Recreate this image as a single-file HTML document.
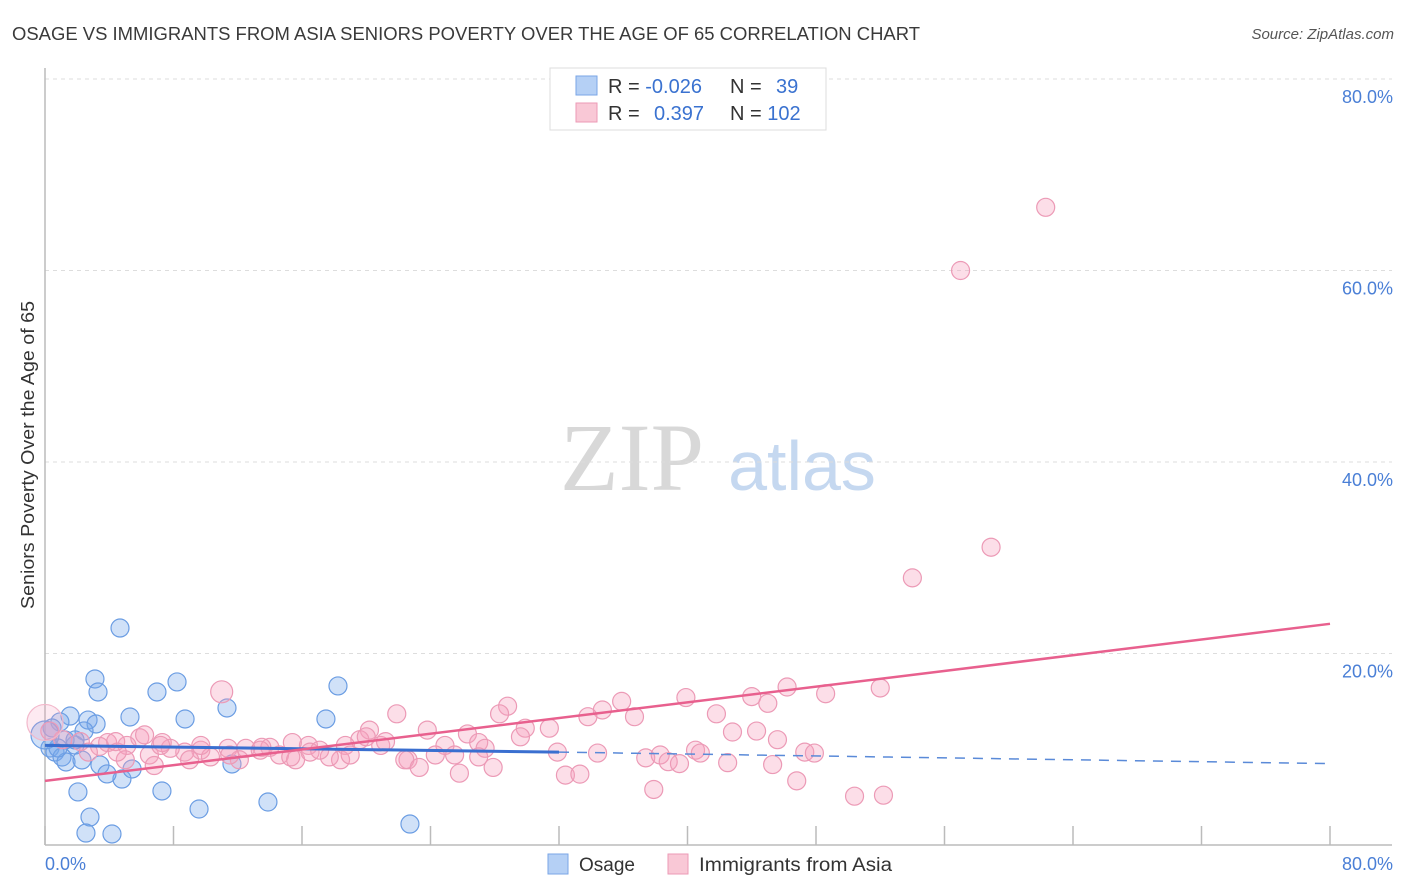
<!DOCTYPE html>
<html><head><meta charset="utf-8"><style>
body{margin:0;background:#fff;font-family:"Liberation Sans",sans-serif;}
svg{display:block}
</style></head><body>
<svg id="chart" width="1406" height="892" xmlns="http://www.w3.org/2000/svg">
<text x="12" y="40" font-size="18" fill="#3a3a3a" textLength="908" lengthAdjust="spacingAndGlyphs">OSAGE VS IMMIGRANTS FROM ASIA SENIORS POVERTY OVER THE AGE OF 65 CORRELATION CHART</text>
<text x="1394" y="39" font-size="15" fill="#555" font-style="italic" text-anchor="end">Source: ZipAtlas.com</text>
<g>
<text x="632" y="490" font-size="96" font-family="Liberation Serif,serif" fill="#d8d8d8" text-anchor="middle">ZIP</text>
<text x="802" y="490" font-size="70" fill="#c5d8f0" text-anchor="middle">atlas</text>
</g>
<g id="grid"></g>
<g id="axes"></g>
<g id="blue-pts"></g>
<g id="pink-pts"></g>
<g id="trends"></g>
<text x="34" y="455" font-size="18" fill="#333" text-anchor="middle" textLength="308" lengthAdjust="spacingAndGlyphs" transform="rotate(-90 34 455)">Seniors Poverty Over the Age of 65</text>
<text x="45" y="870" font-size="18" fill="#4a7fd6">0.0%</text>
<text x="1393" y="870" font-size="18" fill="#4a7fd6" text-anchor="end">80.0%</text>
<g>
<rect x="550" y="68" width="276" height="62" fill="#fff" stroke="#ddd"/>
<rect x="576" y="76" width="21" height="19" fill="#b5d0f5" stroke="#7aa6e6"/>
<rect x="576" y="103" width="21" height="19" fill="#f9c8d6" stroke="#ec9ab6"/>
<text x="608" y="93" font-size="20" fill="#333">R = <tspan fill="#3a72d0">-0.026</tspan></text>
<text x="730" y="93" font-size="20" fill="#333">N = <tspan fill="#3a72d0" x="776">39</tspan></text>
<text x="608" y="120" font-size="20" fill="#333">R = <tspan fill="#3a72d0" x="654">0.397</tspan></text>
<text x="730" y="120" font-size="20" fill="#333">N = <tspan fill="#3a72d0">102</tspan></text>
</g>
<g>
<rect x="548" y="854" width="20" height="20" fill="#b5d0f5" stroke="#7aa6e6"/>
<text x="579" y="871" font-size="19" fill="#333">Osage</text>
<rect x="668" y="854" width="20" height="20" fill="#f9c8d6" stroke="#ec9ab6"/>
<text x="699" y="871" font-size="19" fill="#333" textLength="193" lengthAdjust="spacingAndGlyphs">Immigrants from Asia</text>
</g>
</svg>
<script>
const yTicks=[20,40,60,80];
const yTickLabels=["20.0%","40.0%","60.0%","80.0%"];
const xTicks=[0,8,16,24,32,40,48,56,64,72,80];
const osageX=[4.67,3.11,3.30,8.22,6.97,18.24,11.33,5.29,8.72,17.49,1.56,2.68,3.18,0.93,2.43,0.31,0.62,1.06,1.31,2.30,1.87,3.42,4.79,3.86,5.42,11.64,2.05,7.28,9.59,13.88,2.80,2.55,4.17,22.72,0.44,1.25,0.81,0,1.87];
const osageY=[22.66,17.34,15.98,17.03,15.98,16.61,14.31,13.37,13.16,13.16,13.47,13.05,12.64,12.85,11.91,10.13,9.71,9.19,8.67,8.88,10.44,8.36,6.89,7.42,7.94,8.46,5.54,5.64,3.76,4.49,2.92,1.25,1.15,2.19,12.22,10.97,10.13,11.49,10.97];
const asiaX=[62.3,57.0,58.9,54.0,11.0,52.0,48.6,46.2,44.0,45.0,39.9,35.9,34.7,28.8,28.3,21.9,33.8,41.8,36.7,44.3,42.8,45.6,31.4,29.9,29.6,26.3,23.8,27.0,27.4,20.2,19.6,20.0,20.9,18.7,16.4,15.4,14.0,13.5,12.5,11.4,9.7,8.7,7.8,7.3,5.9,5.1,3.9,3.4,2.2,1.1,0.3,0,31.9,24.9,25.5,27.0,24.3,22.6,22.4,23.3,25.8,27.9,32.4,33.3,34.4,37.4,38.3,38.8,39.5,40.5,40.8,42.5,45.3,47.3,47.9,46.8,37.9,50.4,52.2,6.5,6.8,9.0,10.3,14.6,16.5,18.4,17.7,15.6,12.1,11.5,5.0,4.5,2.7,4.4,6.2,7.2,9.7,17.1,13.4,21.2,19.0,15.3];
const asiaY=[66.6,60.0,31.1,27.9,16.0,16.4,15.8,16.5,15.5,14.8,15.4,15.0,14.1,14.5,13.7,13.7,13.4,13.7,13.4,11.9,11.8,11.0,12.2,12.2,11.3,11.6,12.0,10.7,10.1,12.0,11.0,11.3,10.4,10.4,10.4,10.7,10.2,10.2,10.1,10.1,9.9,9.7,10.1,10.7,11.2,10.4,10.7,10.3,10.8,11.0,11.9,12.8,9.7,10.4,9.4,9.2,9.4,8.9,8.9,8.1,7.5,8.1,7.3,7.4,9.6,9.1,9.4,8.7,8.5,9.9,9.6,8.6,8.4,9.7,9.6,6.7,5.8,5.1,5.2,9.4,8.3,8.9,9.2,9.4,9.7,8.9,9.2,8.9,8.9,9.4,8.9,9.7,9.7,10.8,11.5,10.4,10.4,9.9,9.9,10.8,9.4,9.2];
const osageTrend=[[0,10.4],[32,9.7],[80,8.5]];
const asiaTrend=[[0,6.7],[80,23.1]];
const NS="http://www.w3.org/2000/svg";
const xs=v=>45+v/80*1285;
const ys=v=>845-v/20*191.5;
function mk(tag,attrs,parent){const e=document.createElementNS(NS,tag);for(const k in attrs)e.setAttribute(k,attrs[k]);parent.appendChild(e);return e;}
const grid=document.getElementById('grid'),axes=document.getElementById('axes');
yTicks.forEach((t,i)=>{
  const l=mk('line',{x1:45,x2:1392,y1:ys(t),y2:ys(t),stroke:'#ddd','stroke-dasharray':'4,4'},grid);
  
  
  const tx=mk('text',{x:1393,y:ys(t)+24,'font-size':18,fill:'#4a7fd6','text-anchor':'end'},axes);
  tx.textContent=yTickLabels[i];
  
  
});
const ya=mk('line',{x1:45,x2:45,y1:68,y2:845,stroke:'#bbb','stroke-width':1.5},axes);


const xa=mk('line',{x1:45,x2:1392,y1:845,y2:845,stroke:'#bbb','stroke-width':1.5},axes);


xTicks.forEach(t=>{
  const l=mk('line',{x1:xs(t),x2:xs(t),y1:826,y2:845,stroke:'#bbb','stroke-width':1.5},axes);
  
  
});
const bp=document.getElementById('blue-pts');
osageX.forEach((x,i)=>{
  const r=(x===0)?14:9;
  const c=mk('circle',{cx:xs(x),cy:ys(osageY[i]),r:r,fill:'rgba(120,170,235,0.35)',stroke:'#6b9de3','stroke-width':1.2},bp);
  
  
});
const pp=document.getElementById('pink-pts');
asiaX.forEach((x,i)=>{
  const r=(x===0)?18:(i===4?11:9);
  const c=mk('circle',{cx:xs(x),cy:ys(asiaY[i]),r:r,fill:(x===0)?'rgba(245,160,190,0.22)':'rgba(245,160,190,0.35)',stroke:(x===0)?'#f2b8cb':'#ec9ab6','stroke-width':1.2},pp);
  
  
});
const tr=document.getElementById('trends');
const b1=mk('line',{x1:xs(osageTrend[0][0]),y1:ys(osageTrend[0][1]),x2:xs(osageTrend[1][0]),y2:ys(osageTrend[1][1]),stroke:'#3a6fd0','stroke-width':3},tr);


const b2=mk('line',{x1:xs(osageTrend[1][0]),y1:ys(osageTrend[1][1]),x2:xs(osageTrend[2][0]),y2:ys(osageTrend[2][1]),stroke:'#5a8ad8','stroke-width':1.5,'stroke-dasharray':'10,8'},tr);


const p1=mk('line',{x1:xs(asiaTrend[0][0]),y1:ys(asiaTrend[0][1]),x2:xs(asiaTrend[1][0]),y2:ys(asiaTrend[1][1]),stroke:'#e8608e','stroke-width':2.5},tr);


</script>
</body></html>
